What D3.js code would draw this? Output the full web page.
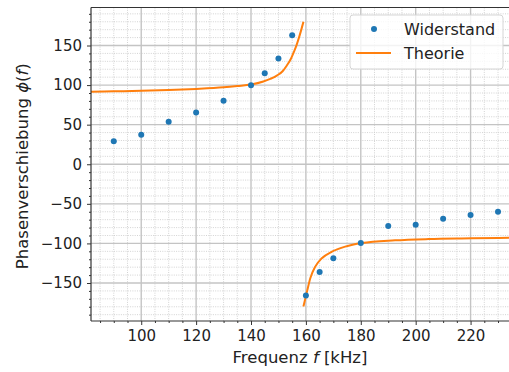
<!DOCTYPE html>
<html>
<head>
<meta charset="utf-8">
<script src="https://cdn.jsdelivr.net/npm/d3@7"></script>
<style>
  body { margin: 0; background: #fff; }
  svg { display: block; font-family: "DejaVu Sans", sans-serif; }
</style>
</head>
<body>
<script>
// Messwerte (Widerstand)
const freqMeas = [90, 100, 110, 120, 130, 140, 145, 150, 155, 160, 165, 170, 180, 190, 200, 210, 220, 230];
const phaseMeas = [29, 37.4, 53.8, 65.5, 80.2, 99.9, 115, 133.5, 162.8, -165.9, -136, -118.8, -99.5, -78, -76.4, -68.9, -64.2, -60];

// Theoriekurve (zwei Äste wegen Sprung bei Resonanz)
const freqTheoUpper = [81.7, 90, 100, 110, 120, 130, 135, 140, 144.5, 147, 149.4, 151.5, 153, 154.5, 155.5, 156.5, 157.3, 158.2, 159.1];
const phaseTheoUpper = [91.6, 92.1, 92.8, 93.8, 95.2, 97.2, 98.8, 100.7, 104.5, 107.8, 112, 117.5, 124.5, 133, 141, 149.5, 158, 168.5, 180];
const freqTheoLower = [159.1, 160.4, 161.6, 163.4, 165.8, 169.5, 174.3, 180.4, 192.5, 204.7, 220.4, 234];
const phaseTheoLower = [-179.7, -160.8, -144, -129.3, -118.8, -110.4, -104.1, -99.5, -96.1, -94.5, -93.6, -92.8];

const xTicks = [100, 120, 140, 160, 180, 200, 220];
const yTicks = [-150, -100, -50, 0, 50, 100, 150];

const width = 509;
const height = 372;
const mLeft = 91, mRight = 509, mTop = 7.5, mBottom = 321;

const x = d3.scaleLinear().domain([81.7, 234]).range([mLeft, mRight]);
const y = d3.scaleLinear().domain([-198, 198]).range([mBottom, mTop]);

const xMinor = d3.range(85, 234, 5).filter(v => v % 20 !== 0);
const yMinor = d3.range(-190, 198, 10).filter(v => v % 50 !== 0);

const svg = d3.select('body').append('svg')
  .attr('width', width)
  .attr('height', height);

svg.append('defs').append('clipPath').attr('id', 'clip')
  .append('rect')
  .attr('x', mLeft).attr('y', mTop)
  .attr('width', mRight - mLeft).attr('height', mBottom - mTop);

// minor grid
const grid = svg.append('g');
grid.selectAll('.xminor').data(xMinor).enter().append('line')
  .attr('x1', d => x(d)).attr('x2', d => x(d))
  .attr('y1', mTop).attr('y2', mBottom)
  .attr('stroke', '#c8c8c8').attr('stroke-width', 0.8)
  .attr('stroke-dasharray', '1,1.3');
grid.selectAll('.yminor').data(yMinor).enter().append('line')
  .attr('y1', d => y(d)).attr('y2', d => y(d))
  .attr('x1', mLeft).attr('x2', mRight)
  .attr('stroke', '#c8c8c8').attr('stroke-width', 0.8)
  .attr('stroke-dasharray', '1,1.3');

// major grid
grid.selectAll('.xmajor').data(xTicks).enter().append('line')
  .attr('x1', d => x(d)).attr('x2', d => x(d))
  .attr('y1', mTop).attr('y2', mBottom)
  .attr('stroke', '#c4c4c4').attr('stroke-width', 1.4);
grid.selectAll('.ymajor').data(yTicks).enter().append('line')
  .attr('y1', d => y(d)).attr('y2', d => y(d))
  .attr('x1', mLeft).attr('x2', mRight)
  .attr('stroke', '#c4c4c4').attr('stroke-width', 1.4);

// theory curve
const line = d3.line()
  .x(d => x(d[0]))
  .y(d => y(d[1]))
  .curve(d3.curveMonotoneX);

const plot = svg.append('g').attr('clip-path', 'url(#clip)');
plot.append('path')
  .datum(d3.zip(freqTheoUpper, phaseTheoUpper))
  .attr('d', line)
  .attr('fill', 'none')
  .attr('stroke', '#ff7f0e')
  .attr('stroke-width', 2);
plot.append('path')
  .datum(d3.zip(freqTheoLower, phaseTheoLower))
  .attr('d', line)
  .attr('fill', 'none')
  .attr('stroke', '#ff7f0e')
  .attr('stroke-width', 2);

// measured points
plot.selectAll('circle')
  .data(d3.zip(freqMeas, phaseMeas))
  .enter()
  .append('circle')
  .attr('cx', d => x(d[0]))
  .attr('cy', d => y(d[1]))
  .attr('r', 3)
  .attr('fill', '#1f77b4');

// axes
const xAxis = d3.axisBottom(x).tickValues(xTicks).tickSize(4).tickPadding(5);
const yAxis = d3.axisLeft(y).tickValues(yTicks).tickSize(4).tickPadding(5)
  .tickFormat(d => d < 0 ? '\u2212' + Math.abs(d) : d);

const gx = svg.append('g')
  .attr('transform', `translate(0, ${mBottom})`)
  .call(xAxis);
const gy = svg.append('g')
  .attr('transform', `translate(${mLeft}, 0)`)
  .call(yAxis);

const gxMinor = svg.append('g')
  .attr('transform', `translate(0, ${mBottom})`)
  .call(d3.axisBottom(x).tickValues(xMinor).tickSize(2).tickFormat(''));
const gyMinor = svg.append('g')
  .attr('transform', `translate(${mLeft}, 0)`)
  .call(d3.axisLeft(y).tickValues(yMinor).tickSize(2).tickFormat(''));

[gx, gy, gxMinor, gyMinor].forEach(g => {
  g.select('.domain').remove();
  g.selectAll('line').attr('stroke', '#333').attr('stroke-width', 1);
  g.selectAll('text').attr('font-size', 15).attr('fill', '#222')
    .attr('font-family', '"DejaVu Sans", sans-serif');
});

// spines
svg.append('line').attr('x1', mLeft).attr('x2', mLeft).attr('y1', mTop).attr('y2', mBottom)
  .attr('stroke', '#333').attr('stroke-width', 1.2);
svg.append('line').attr('x1', mLeft).attr('x2', mRight).attr('y1', mBottom).attr('y2', mBottom)
  .attr('stroke', '#333').attr('stroke-width', 1.2);
svg.append('line').attr('x1', mLeft).attr('x2', mRight).attr('y1', mTop).attr('y2', mTop)
  .attr('stroke', '#333').attr('stroke-width', 1.2);

// axis labels
const xl = svg.append('text')
  .attr('x', (mLeft + mRight) / 2)
  .attr('y', 363)
  .attr('text-anchor', 'middle')
  .attr('font-size', 16.5)
  .attr('fill', '#222');
xl.append('tspan').text('Frequenz ');
xl.append('tspan').attr('font-style', 'italic').text('f');
xl.append('tspan').text(' [kHz]');

const yl = svg.append('text')
  .attr('transform', `translate(28, ${(mTop + mBottom) / 2 + 2}) rotate(-90)`)
  .attr('text-anchor', 'middle')
  .attr('font-size', 16.5)
  .attr('fill', '#222');
yl.append('tspan').text('Phasenverschiebung ');
yl.append('tspan').attr('font-style', 'italic').text('\u03d5');
yl.append('tspan').text('(');
yl.append('tspan').attr('font-style', 'italic').text('f');
yl.append('tspan').text(')');

// legend
const lg = svg.append('g');
lg.append('rect')
  .attr('x', 350).attr('y', 15)
  .attr('width', 153).attr('height', 54)
  .attr('rx', 3)
  .attr('fill', '#fff').attr('fill-opacity', 0.8)
  .attr('stroke', '#d5d5d5');
lg.append('circle')
  .attr('cx', 374).attr('cy', 29).attr('r', 3)
  .attr('fill', '#1f77b4');
lg.append('text')
  .attr('x', 404).attr('y', 35)
  .attr('font-size', 16).attr('fill', '#222')
  .text('Widerstand');
lg.append('line')
  .attr('x1', 356).attr('x2', 391).attr('y1', 53).attr('y2', 53)
  .attr('stroke', '#ff7f0e').attr('stroke-width', 2);
lg.append('text')
  .attr('x', 404).attr('y', 59)
  .attr('font-size', 16).attr('fill', '#222')
  .text('Theorie');
</script>
</body>
</html>
